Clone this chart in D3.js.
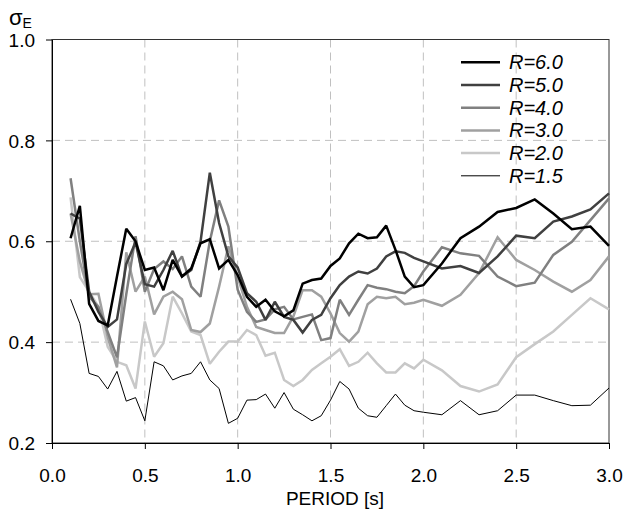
<!DOCTYPE html>
<html><head><meta charset="utf-8">
<script src="https://cdn.jsdelivr.net/npm/d3@7"></script>
<style>
html,body{margin:0;padding:0;background:#fff;}
svg text{font-family:"Liberation Sans",Arial,sans-serif;fill:#000;}
</style></head>
<body><svg id="c" width="624" height="515"></svg>
<script>
const periods = [0.10,0.15,0.20,0.25,0.30,0.35,0.40,0.45,0.50,0.55,0.60,0.65,0.70,0.75,0.80,0.85,0.90,0.95,1.00,
  1.05,1.10,1.15,1.20,1.25,1.30,1.35,1.40,1.45,1.50,1.55,1.60,1.65,1.70,1.75,1.80,1.85,1.90,1.95,2.00,
  2.1,2.2,2.3,2.4,2.5,2.6,2.7,2.8,2.9,3.0];
const seriesNames = ["R=6.0","R=5.0","R=4.0","R=3.0","R=2.0","R=1.5"];
const r60 = [0.606,0.670,0.476,0.442,0.433,0.530,0.625,0.600,0.543,0.548,0.503,0.563,0.530,0.546,0.596,0.604,0.546,0.563,0.533,
  0.490,0.470,0.484,0.461,0.451,0.463,0.516,0.523,0.526,0.551,0.566,0.596,0.615,0.606,0.608,0.631,0.583,0.530,0.509,0.513,
  0.556,0.606,0.629,0.658,0.666,0.683,0.655,0.624,0.629,0.591];
const r50 = [0.655,0.645,0.500,0.460,0.430,0.445,0.555,0.598,0.515,0.510,0.543,0.581,0.530,0.543,0.599,0.736,0.636,0.570,0.548,
  0.497,0.480,0.444,0.480,0.450,0.444,0.419,0.444,0.454,0.487,0.513,0.530,0.540,0.536,0.546,0.570,0.580,0.577,0.567,0.560,
  0.546,0.551,0.537,0.570,0.611,0.606,0.639,0.649,0.663,0.695];
const r40 = [0.725,0.600,0.490,0.470,0.420,0.370,0.495,0.610,0.500,0.545,0.560,0.545,0.570,0.510,0.490,0.600,0.681,0.629,0.504,
  0.460,0.440,0.445,0.465,0.470,0.445,0.450,0.455,0.404,0.408,0.484,0.454,0.484,0.513,0.508,0.505,0.500,0.497,0.511,0.540,
  0.588,0.576,0.571,0.530,0.511,0.518,0.573,0.599,0.642,0.685];
const r30 = [0.655,0.560,0.495,0.496,0.410,0.350,0.578,0.500,0.530,0.455,0.490,0.500,0.485,0.424,0.420,0.437,0.510,0.590,0.530,
  0.470,0.430,0.424,0.418,0.418,0.451,0.503,0.503,0.490,0.457,0.418,0.401,0.421,0.475,0.490,0.487,0.490,0.475,0.478,0.484,
  0.472,0.494,0.537,0.608,0.563,0.543,0.520,0.500,0.523,0.570];
const r20 = [0.687,0.529,0.500,0.470,0.391,0.361,0.354,0.308,0.441,0.371,0.398,0.490,0.457,0.421,0.414,0.357,0.381,0.401,0.401,
  0.424,0.414,0.373,0.379,0.325,0.313,0.325,0.345,0.358,0.371,0.386,0.353,0.361,0.379,0.358,0.340,0.340,0.358,0.348,0.365,
  0.344,0.313,0.302,0.316,0.370,0.396,0.421,0.454,0.487,0.465];
const r15 = [0.485,0.437,0.338,0.332,0.307,0.342,0.283,0.290,0.244,0.361,0.353,0.325,0.333,0.338,0.361,0.325,0.308,0.239,0.249,
  0.285,0.286,0.297,0.269,0.300,0.267,0.256,0.244,0.254,0.285,0.322,0.307,0.269,0.254,0.251,0.274,0.297,0.275,0.264,0.261,
  0.256,0.284,0.256,0.264,0.295,0.295,0.284,0.274,0.275,0.309];
const xTicks = [0.0,0.5,1.0,1.5,2.0,2.5,3.0];
const yTicks = [0.2,0.4,0.6,0.8,1.0];

const values = [r60,r50,r40,r30,r20,r15];
const colors = ["#000000","#404040","#808080","#a0a0a0","#c8c8c8","#000000"];
const widths = [2.5,2.5,2.5,2.5,2.5,1];

const svg = d3.select("#c");
const L=52, R=609, T=39.5, B=443;
const x = d3.scaleLinear().domain([0,3]).range([L,R]);
const y = d3.scaleLinear().domain([0.2,1.0]).range([B,T]);

// grid
const g = svg.append("g");
g.selectAll(".vg").data(xTicks.filter(d=>d>0&&d<3)).enter().append("line")
  .attr("x1",d=>x(d)).attr("x2",d=>x(d)).attr("y1",T).attr("y2",B)
  .attr("stroke","#c0c0c0").attr("stroke-width",1).attr("stroke-dasharray","8,5");
g.selectAll(".hg").data(yTicks.filter(d=>d>0.2&&d<1.0)).enter().append("line")
  .attr("x1",L).attr("x2",R).attr("y1",d=>y(d)).attr("y2",d=>y(d))
  .attr("stroke","#c0c0c0").attr("stroke-width",1).attr("stroke-dasharray","8,5");

// box
svg.append("rect").attr("x",L).attr("y",T).attr("width",R-L).attr("height",B-T)
  .attr("fill","none").attr("stroke","#333").attr("stroke-width",1);

// lines
const line = d3.line().x((d,i)=>x(periods[i])).y(d=>y(d));
for (let k=values.length-1;k>=0;k--){
  svg.append("path").datum(values[k]).attr("d",line)
    .attr("fill","none").attr("stroke",colors[k]).attr("stroke-width",widths[k])
    .attr("stroke-linejoin","miter").attr("stroke-miterlimit",2);
}

// axes
const xAxis = d3.axisBottom(x).tickValues(xTicks).tickFormat(d3.format(".1f")).tickSize(6).tickSizeOuter(0);
const xa = svg.append("g").attr("transform",`translate(0,${B})`).call(xAxis);
xa.select(".domain").attr("stroke","#000");
xa.selectAll(".tick line").attr("stroke","#000");
xa.selectAll(".tick text").attr("font-size","19px").attr("dy","0").attr("y",39)
  .attr("font-family","Liberation Sans, Arial, sans-serif").attr("fill","#000");

const yAxis = d3.axisLeft(y).tickValues(yTicks).tickFormat(d3.format(".1f")).tickSize(6).tickSizeOuter(0);
const ya = svg.append("g").attr("transform",`translate(${L},0)`).call(yAxis);
ya.select(".domain").attr("stroke","#000");
ya.selectAll(".tick line").attr("stroke","#000");
ya.selectAll(".tick text").attr("font-size","19px").attr("x",-17).attr("dy","0.35em")
  .attr("font-family","Liberation Sans, Arial, sans-serif").attr("fill","#000");

// axis titles
svg.append("text").attr("x",335).attr("y",505).attr("text-anchor","middle")
  .attr("font-size","19px").text("PERIOD [s]");
const yt = svg.append("text").attr("x",9).attr("y",25).attr("font-size","22px");
yt.append("tspan").text("σ");
yt.append("tspan").attr("font-size","14px").attr("dy","3").text("E");

// legend
const lg = svg.append("g");
seriesNames.forEach((n,i)=>{
  const yy = 62.3 + i*22.7;
  lg.append("line").attr("x1",461).attr("x2",500).attr("y1",yy).attr("y2",yy)
    .attr("stroke",colors[i]).attr("stroke-width",widths[i]);
  lg.append("text").attr("x",509).attr("y",yy+7).attr("font-size","20px")
    .attr("font-style","italic").text(n);
});
</script></body></html>
